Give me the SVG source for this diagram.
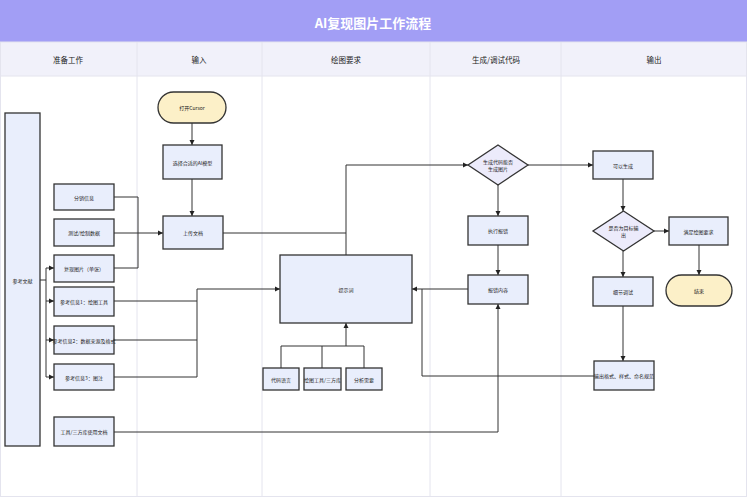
<svg xmlns="http://www.w3.org/2000/svg" width="747" height="497" viewBox="0 0 747 497">
<defs>
<marker id="ah" markerWidth="6" markerHeight="6" refX="5" refY="3" orient="auto" markerUnits="userSpaceOnUse">
<path d="M0,0.5 L5,3 L0,5.5 Z" fill="#222"/>
</marker>
<style>
.box{fill:#e9eefc;stroke:#333;stroke-width:1.3}
.term{fill:#fcf0c8;stroke:#333;stroke-width:1.3}
.dia{fill:#ecebfb;stroke:#333;stroke-width:1.3}
.t{font-family:"Noto Sans CJK SC","Liberation Sans",sans-serif;font-size:5px;fill:#222;text-anchor:middle;dominant-baseline:central}
.h{font-family:"Noto Sans CJK SC","Liberation Sans",sans-serif;font-size:7.5px;fill:#222;text-anchor:middle;dominant-baseline:central}
.c{fill:none;stroke:#333;stroke-width:1}
.sep{stroke:#e4e4ee;stroke-width:1}
</style>
</defs>
<rect x="0" y="0" width="747" height="497" fill="#ffffff"/>
<g id="title">
<rect x="0" y="0" width="747" height="42" fill="#a29ef5"/>
<text x="373" y="22" font-family="Noto Sans CJK SC, Liberation Sans, sans-serif" font-size="13" font-weight="bold" fill="#ffffff" text-anchor="middle" dominant-baseline="central">AI复现图片工作流程</text>
</g>
<g id="lanes">
<rect x="0" y="42" width="747" height="34" fill="#f1f1fa"/>
<line x1="0" y1="76" x2="747" y2="76" class="sep"/>
<line x1="137" y1="42" x2="137" y2="497" class="sep"/>
<line x1="262" y1="42" x2="262" y2="497" class="sep"/>
<line x1="430" y1="42" x2="430" y2="497" class="sep"/>
<line x1="561" y1="42" x2="561" y2="497" class="sep"/>
<rect x="0.5" y="42" width="746" height="454.5" fill="none" stroke="#e4e4ee"/>
<text class="h" x="68" y="59">准备工作</text>
<text class="h" x="199" y="59">输入</text>
<text class="h" x="346" y="59">绘图要求</text>
<text class="h" x="496" y="59">生成/调试代码</text>
<text class="h" x="654" y="59">输出</text>
</g>
<g id="connectors">
<path class="c" d="M192,123 V145" marker-end="url(#ah)"/>
<path class="c" d="M192,179 V216" marker-end="url(#ah)"/>
<path class="c" d="M114,197 H138 V268 H114"/>
<path class="c" d="M114,233 H163" marker-end="url(#ah)"/>
<path class="c" d="M40,280 H46"/>
<path class="c" d="M46,268 V377"/>
<path class="c" d="M46,268 H54" marker-end="url(#ah)"/>
<path class="c" d="M46,301 H54" marker-end="url(#ah)"/>
<path class="c" d="M46,340 H54" marker-end="url(#ah)"/>
<path class="c" d="M46,377 H54" marker-end="url(#ah)"/>
<path class="c" d="M114,301 H197"/>
<path class="c" d="M114,340 H197"/>
<path class="c" d="M114,377 H197 V289 H280" marker-end="url(#ah)"/>
<path class="c" d="M223,233 H346"/>
<path class="c" d="M346,255 V165 H468" marker-end="url(#ah)"/>
<path class="c" d="M528,165 H593" marker-end="url(#ah)"/>
<path class="c" d="M498,185 V216" marker-end="url(#ah)"/>
<path class="c" d="M498,245 V275" marker-end="url(#ah)"/>
<path class="c" d="M468,289 H412" marker-end="url(#ah)"/>
<path class="c" d="M594,376 H422 V289"/>
<path class="c" d="M114,432 H498 V304" marker-end="url(#ah)"/>
<path class="c" d="M281,368 V346 H364 V368"/>
<path class="c" d="M322,368 V346"/>
<path class="c" d="M346,346 V323" marker-end="url(#ah)"/>
<path class="c" d="M623,179 V211" marker-end="url(#ah)"/>
<path class="c" d="M654,231 H669" marker-end="url(#ah)"/>
<path class="c" d="M623,251 V277" marker-end="url(#ah)"/>
<path class="c" d="M699,245 V275" marker-end="url(#ah)"/>
<path class="c" d="M623,306 V361" marker-end="url(#ah)"/>
</g>
<g id="n_refs"><rect class="box" x="5" y="113" width="35" height="333"/><text class="t" x="22.5" y="280">参考文献</text></g>
<g id="n_fenxiao"><rect class="box" x="54" y="184" width="60" height="26"/><text class="t" x="84" y="197">分销信息</text></g>
<g id="n_ceshi"><rect class="box" x="54" y="219" width="60" height="27"/><text class="t" x="84" y="232.5">测试/绘制数据</text></g>
<g id="n_fuxian"><rect class="box" x="54" y="255" width="60" height="27"/><text class="t" x="84" y="268.5">复现图片（单张）</text></g>
<g id="n_ref1"><rect class="box" x="54" y="287" width="60" height="29"/><text class="t" x="84" y="301.5">参考信息1：绘图工具</text></g>
<g id="n_ref2"><rect class="box" x="54" y="326" width="60" height="28"/><text class="t" x="84" y="340">参考信息2：数据来源及格式</text></g>
<g id="n_ref3"><rect class="box" x="54" y="364" width="60" height="26"/><text class="t" x="84" y="377">参考信息3：图注</text></g>
<g id="n_tooldoc"><rect class="box" x="54" y="417" width="60" height="29"/><text class="t" x="84" y="431.5">工具/三方库使用文档</text></g>
<g id="n_cursor"><rect class="term" x="158" y="92" width="68" height="31" rx="15.5"/><text class="t" x="192" y="107.5">打开Cursor</text></g>
<g id="n_model"><rect class="box" x="163" y="145" width="59" height="34"/><text class="t" x="192.5" y="162">选择合适的AI模型</text></g>
<g id="n_upload"><rect class="box" x="163" y="216" width="60" height="33"/><text class="t" x="193" y="232.5">上传文档</text></g>
<g id="n_prompt"><rect class="box" x="280" y="255" width="132" height="68"/><text class="t" x="346" y="289">提示词</text></g>
<g id="n_lang"><rect class="box" x="263" y="368" width="36" height="22"/><text class="t" x="281" y="379">代码语言</text></g>
<g id="n_lib"><rect class="box" x="304" y="368" width="37" height="22"/><text class="t" x="322.5" y="379">绘图工具/三方库</text></g>
<g id="n_need"><rect class="box" x="346" y="368" width="36" height="22"/><text class="t" x="364" y="379">分析需要</text></g>
<g id="n_gen"><polygon class="dia" points="498,145 528,165 498,185 468,165"/><text class="t" x="498" y="161.5">生成代码能否</text><text class="t" x="498" y="168.5">生成图片</text></g>
<g id="n_err"><rect class="box" x="468" y="216" width="60" height="29"/><text class="t" x="498" y="230.5">执行报错</text></g>
<g id="n_errc"><rect class="box" x="468" y="275" width="60" height="29"/><text class="t" x="498" y="289.5">报错内容</text></g>
<g id="n_ok"><rect class="box" x="593" y="151" width="60" height="28"/><text class="t" x="623" y="165">可以生成</text></g>
<g id="n_target"><polygon class="dia" points="623.5,211 654,231 623.5,251 593,231"/><text class="t" x="623.5" y="227.5">是否为目标输</text><text class="t" x="623.5" y="234.5">出</text></g>
<g id="n_meet"><rect class="box" x="669" y="217" width="59" height="28"/><text class="t" x="698.5" y="231">满足绘图要求</text></g>
<g id="n_end"><rect class="term" x="666" y="275" width="66" height="31" rx="15.5"/><text class="t" x="699" y="290.5">结束</text></g>
<g id="n_detail"><rect class="box" x="593" y="277" width="60" height="29"/><text class="t" x="623" y="291.5">细节调试</text></g>
<g id="n_fmt"><rect class="box" x="594" y="361" width="60" height="29"/><text class="t" x="624" y="375.5">输出格式、样式、命名规范</text></g>
</svg>
